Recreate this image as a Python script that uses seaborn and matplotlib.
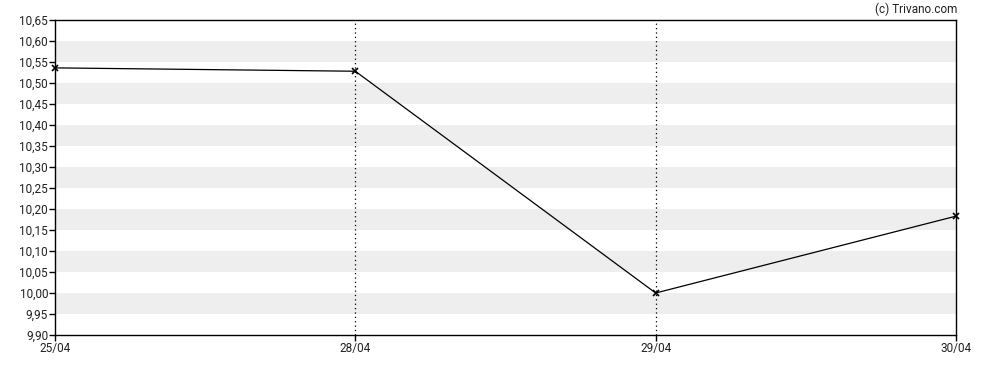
import matplotlib
matplotlib.use("Agg")
import matplotlib.pyplot as plt
import seaborn as sns
import numpy as np
import pandas as pd

dates = ["25/04", "28/04", "29/04", "30/04"]
prices = [10.536, 10.528, 10.000, 10.183]
y_ticks = [9.90, 9.95, 10.00, 10.05, 10.10, 10.15, 10.20, 10.25, 10.30, 10.35,
           10.40, 10.45, 10.50, 10.55, 10.60, 10.65]
band_starts = [9.95, 10.05, 10.15, 10.25, 10.35, 10.45, 10.55]

sns.set_theme(style="white")
plt.rcParams['font.family'] = ['Roboto', 'DejaVu Sans']

fig = plt.figure(figsize=(9.88, 3.70), dpi=100)
ax = fig.add_axes([55/988, 35/370, (956-55)/988, (335-20)/370])

for b in band_starts:
    ax.axhspan(b, b + 0.05, color="#eeeeee", lw=0, zorder=0)

df = pd.DataFrame({"pos": np.arange(len(dates)), "price": prices})
for xv in [1, 2]:
    ax.axvline(xv, color="black", lw=0.9, ls=(0, (1, 2.5)), zorder=1)

sns.lineplot(data=df, x="pos", y="price", ax=ax, color="black", lw=0.9,
             marker="x", markersize=4, markeredgewidth=1.2, markeredgecolor="black",
             zorder=3, clip_on=False)

ax.set_xlim(0, len(dates) - 1)
ax.set_ylim(9.90, 10.65)
ax.set_xticks(np.arange(len(dates)))
ax.set_xticklabels(dates)
ax.set_yticks(y_ticks)
ax.set_yticklabels([f"{v:.2f}".replace(".", ",") for v in y_ticks])
ax.set_xlabel("")
ax.set_ylabel("")
for s in ax.spines.values():
    s.set_visible(True)
    s.set_color("black")
    s.set_linewidth(1)
ax.tick_params(axis="both", which="both", direction="out", length=4, width=1,
               color="black", labelsize=8.5, labelcolor="#222222", pad=1,
               bottom=True, left=True)
ax.grid(False)

fig.text(957/988, 1 - 9/370, "(c) Trivano.com", ha="right", va="center",
         fontsize=8.5, color="#222222")

fig.savefig("out.png", dpi=100)
